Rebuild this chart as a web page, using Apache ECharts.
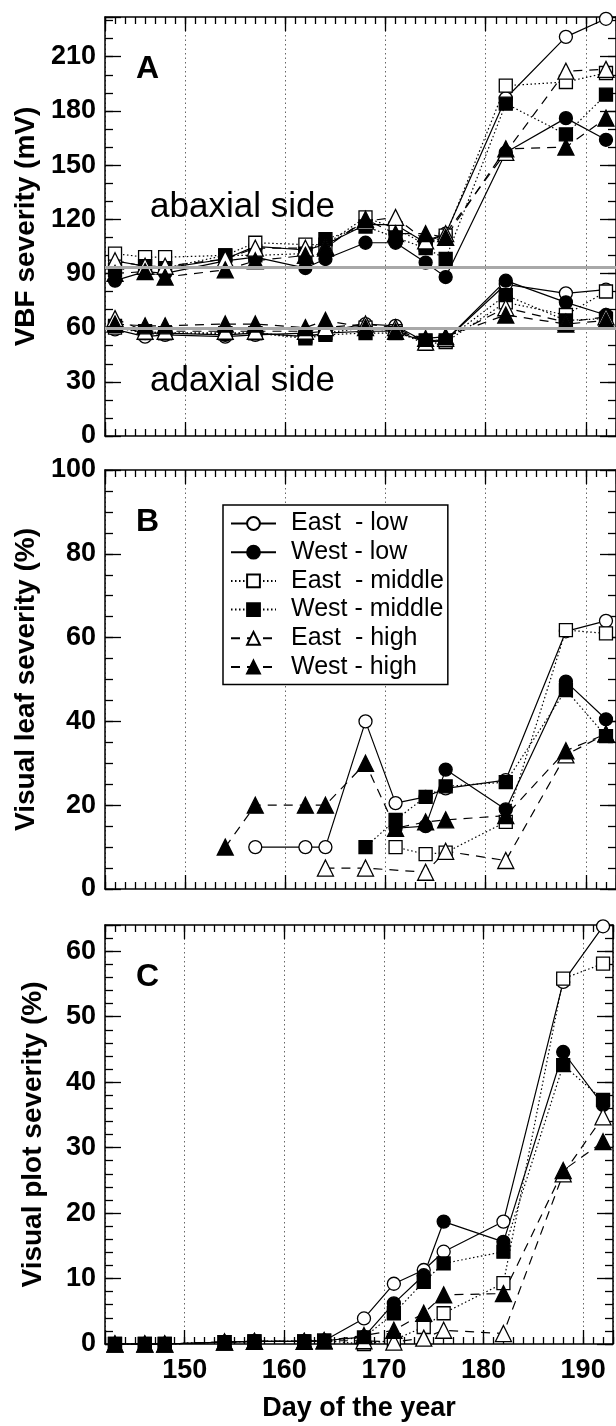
<!DOCTYPE html>
<html><head><meta charset="utf-8">
<script src="https://cdn.jsdelivr.net/npm/echarts@6/dist/echarts.min.js"></script>
<style>html,body{margin:0;padding:0;background:#fff}#c{width:616px;height:1426px}</style>
</head><body><div id="c"></div>
<script>
// ---------- data ----------
const days = [143, 146, 148, 154, 157, 162, 164, 168, 171, 174, 176, 182, 188, 192];
const seriesNames = ['East  - low', 'West - low', 'East  - middle', 'West - middle', 'East  - high', 'West - high'];

// Panel A: VBF severity (mV), abaxial side
const eastLowAb  = [97, 94, 93, 98, 105, 103, 106, 117, 117, 107, 112, 187, 221, 231];
const westLowAb  = [86, 91, 90, 97, 99, 93, 98, 107, 107, 96, 88, 157, 176, 164];
const eastMidAb  = [101, 99, 99, 100, 107, 106, 106, 121, 115, 106, 111, 194, 196, 201];
const westMidAb  = [92, 94, 93, 100, 100, 101, 109, 116, 110, 104, 98, 184, 167, 189];
const eastHighAb = [97, 94, 94, 98, 104, 104, 105, 119, 121, 108, 112, 157, 202, 203];
const westHighAb = [90, 91, 88, 92, 97, 100, 104, 120, 112, 112, 110, 159, 160, 176];
// Panel A: adaxial side
const eastLowAd  = [59, 55, 56, 55, 56, 57, 58, 62, 61, 52, 53, 84, 79, 81];
const westLowAd  = [61, 57, 57, 56, 57, 55, 57, 58, 58, 52, 53, 86, 74, 67];
const eastMidAd  = [60, 57, 57, 57, 57, 55, 57, 60, 58, 51, 52, 74, 67, 80];
const westMidAd  = [61, 58, 57, 57, 57, 54, 56, 57, 57, 53, 53, 78, 64, 65];
const eastHighAd = [65, 58, 58, 58, 58, 58, 60, 62, 60, 52, 54, 71, 63, 66];
const westHighAd = [62, 61, 61, 62, 62, 60, 64, 60, 58, 54, 55, 67, 62, 64];
const refLinesA = [93.5, 59.5];

// Panel B: visual leaf severity (%)
const eastLowB  = [null, null, null, null, 10, 10, 10, 40, 20.5, 22, 24, 26, 61.5, 64];
const westLowB  = [null, null, null, null, null, null, null, null, 14.5, 15, 28.5, 19, 49.5, 40.5];
const eastMidB  = [null, null, null, null, null, null, null, null, 10, 8.3, 8.7, 16, 61.8, 61];
const westMidB  = [null, null, null, null, null, null, null, 10, 16.5, 22, 24.5, 25.5, 47.5, 36.5];
const eastHighB = [null, null, null, null, null, null, 5, 5, null, 4, 9, 6.8, 32, 37];
const westHighB = [null, null, null, 10, 20, 20, 20, 30, 14.5, 16, 16.5, 17.5, 33, 37];

// Panel C: visual plot severity (%)
const eastLowC  = [0, 0, 0, 0.3, 0.4, 0.4, 0.5, 3.9, 9.2, 11.3, 14.1, 18.7, 55.3, 63.8];
const westLowC  = [0, 0, 0, 0.3, 0.4, 0.4, 0.5, 1.1, 6.2, 10.5, 18.7, 15.6, 44.6, 36.5];
const eastMidC  = [0, 0, 0, 0.3, 0.4, 0.4, 0.5, 0, 0.6, 2.6, 4.7, 9.3, 55.8, 58.1];
const westMidC  = [0, 0, 0, 0.3, 0.4, 0.4, 0.5, 1.0, 4.7, 9.5, 12.3, 14.1, 42.6, 37.3];
const eastHighC = [0, 0, 0, 0.3, 0.4, 0.4, 0.5, 0.5, 0.3, 0.9, 2.1, 1.6, 26, 34.7];
const westHighC = [0, 0, 0, 0.3, 0.4, 0.4, 0.5, 1.3, 2.1, 4.7, 7.5, 7.7, 26.5, 30.9];

const xRange = [142, 193];
const yRangeA = [0, 232], yRangeB = [0, 100], yRangeC = [0, 64];
const panelLetters = ['A', 'B', 'C'];
const yTitles = ['VBF severity (mV)', 'Visual leaf severity (%)', 'Visual plot severity (%)'];
const xTitle = 'Day of the year';
const sideLabels = ['abaxial side', 'adaxial side'];

// ---------- chart ----------
const FONT = '"Liberation Sans", Arial, Helvetica, sans-serif';
const BLACK = '#000';
const grids = [
  {left: 105, right: 0, top: 17, height: 419},
  {left: 105, right: 0, top: 470, height: 419},
  {left: 105, right: 0, top: 925, height: 419}
];
const tickLabel = {fontFamily: FONT, fontWeight: 'bold', fontSize: 27, color: BLACK};
const axisLineStyle = {color: BLACK, width: 1.5};
const tickLine = {color: BLACK, width: 1.3};

const xAxis = [], yAxis = [];
function addX(gi, showLabels) {
  const base = {gridIndex: gi, type: 'value', min: xRange[0], max: xRange[1],
    axisLine: {show: true, onZero: false, lineStyle: axisLineStyle}, splitLine: {show: false}};
  xAxis.push(Object.assign({}, base, {
    position: 'bottom', minInterval: 10, maxInterval: 10,
    axisTick: {show: true, inside: true, length: 14, lineStyle: tickLine},
    axisLabel: Object.assign({show: showLabels, margin: 13, formatter: v => (v % 10 === 0 ? String(v) : '')}, tickLabel),
    splitLine: {show: true, lineStyle: {type: [1.5, 3], color: '#666', width: 1}},
    name: showLabels ? xTitle : '', nameLocation: 'middle', nameGap: 51,
    nameTextStyle: {fontFamily: FONT, fontWeight: 'bold', fontSize: 27, color: BLACK}
  }));
  xAxis.push(Object.assign({}, base, {
    position: 'bottom', interval: 1, axisLine: {show: false, onZero: false},
    axisTick: {show: true, inside: true, length: 7, lineStyle: tickLine}, axisLabel: {show: false}
  }));
  xAxis.push(Object.assign({}, base, {
    position: 'top', minInterval: 10, maxInterval: 10,
    axisTick: {show: true, inside: true, length: 14, lineStyle: tickLine}, axisLabel: {show: false}
  }));
  xAxis.push(Object.assign({}, base, {
    position: 'top', interval: 1, axisLine: {show: false, onZero: false},
    axisTick: {show: true, inside: true, length: 7, lineStyle: tickLine}, axisLabel: {show: false}
  }));
}
function addY(gi, range, major, minor, title) {
  const base = {gridIndex: gi, type: 'value', min: range[0], max: range[1],
    axisLine: {show: true, onZero: false, lineStyle: axisLineStyle}, splitLine: {show: false}};
  yAxis.push(Object.assign({}, base, {
    position: 'left', interval: major,
    axisTick: {show: true, inside: true, length: 16, lineStyle: tickLine},
    axisLabel: Object.assign({show: true, margin: 9, formatter: v => (v % major === 0 ? String(v) : '')}, tickLabel),
    name: title, nameLocation: 'middle', nameGap: 58, nameRotate: 90,
    nameTextStyle: {fontFamily: FONT, fontWeight: 'bold', fontSize: 28, color: BLACK}
  }));
  yAxis.push(Object.assign({}, base, {
    position: 'left', interval: minor, axisLine: {show: false, onZero: false},
    axisTick: {show: true, inside: true, length: 8, lineStyle: tickLine}, axisLabel: {show: false}
  }));
  yAxis.push(Object.assign({}, base, {
    position: 'right', interval: major,
    axisTick: {show: true, inside: true, length: 16, lineStyle: tickLine}, axisLabel: {show: false}
  }));
  yAxis.push(Object.assign({}, base, {
    position: 'right', interval: minor, axisLine: {show: false, onZero: false},
    axisTick: {show: true, inside: true, length: 8, lineStyle: tickLine}, axisLabel: {show: false}
  }));
}
addX(0, false); addX(1, false); addX(2, true);
addY(0, yRangeA, 30, 10, yTitles[0]);
addY(1, yRangeB, 20, 5, yTitles[1]);
addY(2, yRangeC, 10, 2, yTitles[2]);

const styleOf = {
  'East  - low':    {symbol: 'circle',   open: true,  line: 'solid'},
  'West - low':     {symbol: 'circle',   open: false, line: 'solid'},
  'East  - middle': {symbol: 'rect',     open: true,  line: 'dotted'},
  'West - middle':  {symbol: 'rect',     open: false, line: 'dotted'},
  'East  - high':   {symbol: 'triangle', open: true,  line: 'dashed'},
  'West - high':    {symbol: 'triangle', open: false, line: 'dashed'}
};
function pairs(vals) {
  const out = [];
  vals.forEach((v, i) => { if (v !== null) out.push([days[i], v]); });
  return out;
}
const series = [];
function addSeries(gi, name, vals) {
  const s = styleOf[name];
  series.push({
    type: 'line', name: name, xAxisIndex: gi * 4, yAxisIndex: gi * 4,
    data: pairs(vals), symbol: s.symbol,
    symbolSize: s.symbol === 'triangle' ? 16 : 13,
    showAllSymbol: true, clip: false, animation: false,
    itemStyle: {color: s.open ? '#fff' : BLACK, borderColor: BLACK, borderWidth: 1.3, opacity: 1},
    lineStyle: {color: BLACK, width: 1.2,
      type: s.line === 'dashed' ? [9, 7] : (s.line === 'dotted' ? [1.5, 2.5] : 'solid')},
    emphasis: {disabled: true}, z: 3
  });
}
// gray reference lines (panel A)
series.push({
  type: 'line', name: 'ref', xAxisIndex: 0, yAxisIndex: 0, data: [], silent: true, z: 2,
  markLine: {silent: true, symbol: ['none', 'none'], label: {show: false},
    lineStyle: {color: '#a8a8a8', width: 3, type: 'solid'},
    data: refLinesA.map(v => ({yAxis: v})), animation: false}
});
const panelA = [[eastLowAb, eastLowAd], [westLowAb, westLowAd], [eastMidAb, eastMidAd],
                [westMidAb, westMidAd], [eastHighAb, eastHighAd], [westHighAb, westHighAd]];
seriesNames.forEach((n, k) => { addSeries(0, n, panelA[k][0]); addSeries(0, n, panelA[k][1]); });
const panelB = [eastLowB, westLowB, eastMidB, westMidB, eastHighB, westHighB];
seriesNames.forEach((n, k) => addSeries(1, n, panelB[k]));
const panelC = [eastLowC, westLowC, eastMidC, westMidC, eastHighC, westHighC];
seriesNames.forEach((n, k) => addSeries(2, n, panelC[k]));

const letterY = [69, 522, 977];
const graphic = panelLetters.map((t, i) => ({
  type: 'text', x: 136, y: letterY[i], z: 20,
  style: {text: t, fontFamily: FONT, fontWeight: 'bold', fontSize: 32, fill: BLACK,
          align: 'left', verticalAlign: 'middle'}
}));
graphic.push({type: 'text', x: 150, y: 207, z: 20,
  style: {text: sideLabels[0], fontFamily: FONT, fontSize: 35, fill: BLACK, align: 'left', verticalAlign: 'middle'}});
graphic.push({type: 'text', x: 150, y: 381, z: 20,
  style: {text: sideLabels[1], fontFamily: FONT, fontSize: 35, fill: BLACK, align: 'left', verticalAlign: 'middle'}});

const chart = echarts.init(document.getElementById('c'), null, {renderer: 'canvas'});
chart.setOption({
  animation: false,
  backgroundColor: '#fff',
  grid: grids,
  xAxis: xAxis,
  yAxis: yAxis,
  legend: {
    data: seriesNames, orient: 'vertical', left: 223, top: 505,
    itemWidth: 45, itemHeight: 16, itemGap: 3.7,
    padding: [6, 4, 5, 7], borderColor: BLACK, borderWidth: 1.5, backgroundColor: '#fff',
    textStyle: {fontFamily: FONT, fontSize: 25, color: BLACK, lineHeight: 25, padding: [0, 0, 0, 10]},
    selectedMode: false, z: 10
  },
  graphic: graphic,
  series: series
});
</script></body></html>
